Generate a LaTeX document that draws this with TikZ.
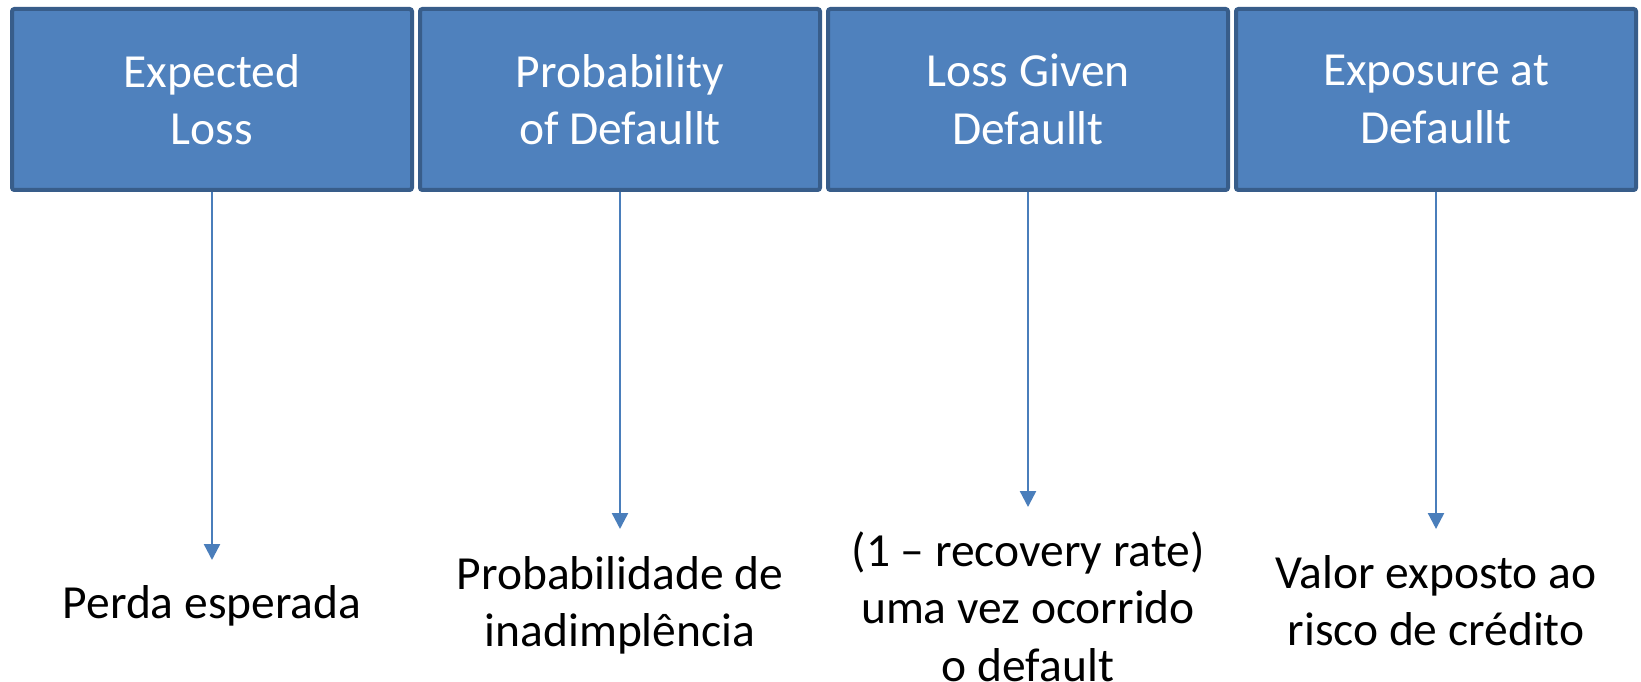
\documentclass[tikz,border=0pt]{standalone}
\usepackage{fontspec}
\setmainfont{Carlito}
\usepackage{tikz}
\usepackage{xcolor}
\usetikzlibrary{arrows.meta,positioning}
\definecolor{boxfill} {HTML}{4F81BD}
\definecolor{boxline} {HTML}{385D8A}
\definecolor{arrblue} {HTML}{4A7EBB}
\tikzset{
  factorbox/.style ={draw=boxline, fill=boxfill, line width=2pt,
                     rounded corners=1.2pt,
                     minimum width=200pt, minimum height=90.5pt,
                     align=center, text=white, inner sep=0pt,
                     font=\fontsize{23.75}{28.8}\selectfont},
  desctext/.style  ={align=center, text=black, inner sep=0pt,
                     font=\fontsize{23.75}{28.8}\selectfont},
  factorarr/.style ={-{Triangle[length=8pt,width=8pt]}, line width=1.2pt, color=arrblue},
}
\begin{document}
\begin{tikzpicture}[x=0.5pt,y=0.5pt]
        \useasboundingbox[fill=white] (0,0) rectangle (1641,681);
        % the four risk parameters
        \node[factorbox] (el)  at (212,581.5)  {Expected\\Loss};
        \node[factorbox] (pd)  at (620,581.5)  {Probability\\of Defaullt};
        \node[factorbox] (lgd) at (1028,581.5) {Loss Given\\Defaullt};
        \node[factorbox] (ead) at (1436,581.5) {Exposure at\\Defaullt};
        % arrow tips
        \coordinate (elTip)  at (212,121);
        \coordinate (pdTip)  at (620,152);
        \coordinate (lgdTip) at (1028,174);
        \coordinate (eadTip) at (1436,152);
        \draw[factorarr] (el.south)  -- (elTip);
        \draw[factorarr] (pd.south)  -- (pdTip);
        \draw[factorarr] (lgd.south) -- (lgdTip);
        \draw[factorarr] (ead.south) -- (eadTip);
        % descriptions
        \node[desctext] (elDesc)  at (212,75.2)  {Perda esperada};
        \node[desctext] (pdDesc)  at (620,75.7)  {Probabilidade de\\inadimplência};
        \node[desctext] (lgdDesc) at (1028,74.5) {(1 – recovery rate)\\uma vez ocorrido\\o default};
        \node[desctext] (eadDesc) at (1436,80.5) {Valor exposto ao\\risco de crédito};
      \end{tikzpicture}
\end{document}
